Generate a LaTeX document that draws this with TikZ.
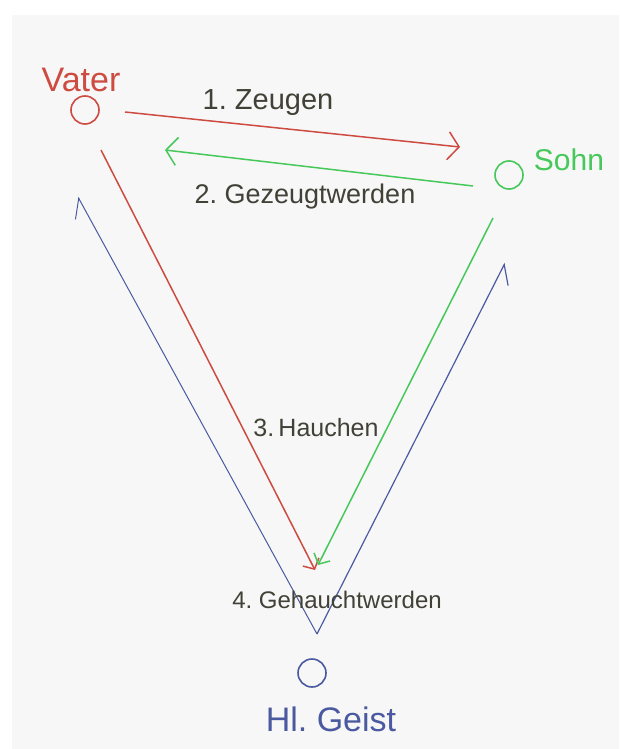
\documentclass[tikz,border=0pt]{standalone}
\usepackage{fontspec}
\setmainfont{Liberation Sans}
\usetikzlibrary{arrows.meta}

\definecolor{vaterred}{RGB}{205,75,65}
\definecolor{sohngreen}{RGB}{70,200,90}
\definecolor{geistblue}{RGB}{75,90,160}
\definecolor{inkgray}{RGB}{65,65,55}

\begin{document}
\begin{tikzpicture}[
    x=1pt, y=-1pt,
    >={Straight Barb[length=11pt,width=28pt]},
    person/.style={
        circle,
        draw,
        line width=1.6pt,
        minimum size=28pt,
        inner sep=0pt
    },
    personname/.style={
        font=\fontsize{30}{34}\selectfont
    },
    relation/.style={
        text=inkgray,
        font=\fontsize{27}{31}\selectfont
    },
    pen/.style={
        line width=1.5pt
    }
]
\useasboundingbox (0,0) rectangle (619,749);
\fill[black!3] (12,15) rectangle (619,749);

% the three persons
\node[person, draw=vaterred] (vater) at (85,110) {};
\node[person, draw=sohngreen] (sohn) at (509,175) {};
\node[person, draw=geistblue] (geist) at (312,673) {};

\node[personname, text=vaterred, font=\fontsize{34}{38}\selectfont] (vaterlabel) at (81,80) {Vater};
\node[personname, text=sohngreen] (sohnlabel) at (569,160) {Sohn};
\node[personname, text=geistblue, font=\fontsize{34}{38}\selectfont] (geistlabel) at (331,719) {Hl.\ Geist};

% relations
\draw[->, pen, vaterred] ([shift={(40,2)}]vater.center) -- ([shift={(-49,-28)}]sohn.center);
\draw[->, pen, sohngreen] ([shift={(-36,11)}]sohn.center) -- ([shift={(80,40)}]vater.center);
\draw[-{Straight Barb[length=8pt,width=18pt]}, pen, vaterred]
    ([shift={(16,40)}]vater.center) -- ([shift={(3,-103)}]geist.center);
\draw[-{Straight Barb[length=8pt,width=18pt]}, pen, sohngreen]
    ([shift={(-16,43)}]sohn.center) -- ([shift={(6,-108)}]geist.center);
\draw[-{Straight Barb[left,length=17pt,width=26pt]}, line width=1pt, geistblue]
    ([shift={(5,-39)}]geist.center) -- ([shift={(-7,87)}]vater.center);
\draw[-{Straight Barb[right,length=17pt,width=26pt]}, line width=1.2pt, geistblue]
    ([shift={(5,-39)}]geist.center) -- ([shift={(-4,88)}]sohn.center);

\node[relation, font=\fontsize{29}{33}\selectfont] (zeugen) at (268,103) {1.\ Zeugen};
\node[relation] (gezeugt) at (305,197) {2.\ Gezeugtwerden};
\node[relation, font=\fontsize{25}{29}\selectfont] (hauchen) at (316,428) {3.\,Hauchen};
\node[relation, font=\fontsize{24}{28}\selectfont] (gehaucht) at (337,600) {4.\ Gehauchtwerden};
\end{tikzpicture}
\end{document}
